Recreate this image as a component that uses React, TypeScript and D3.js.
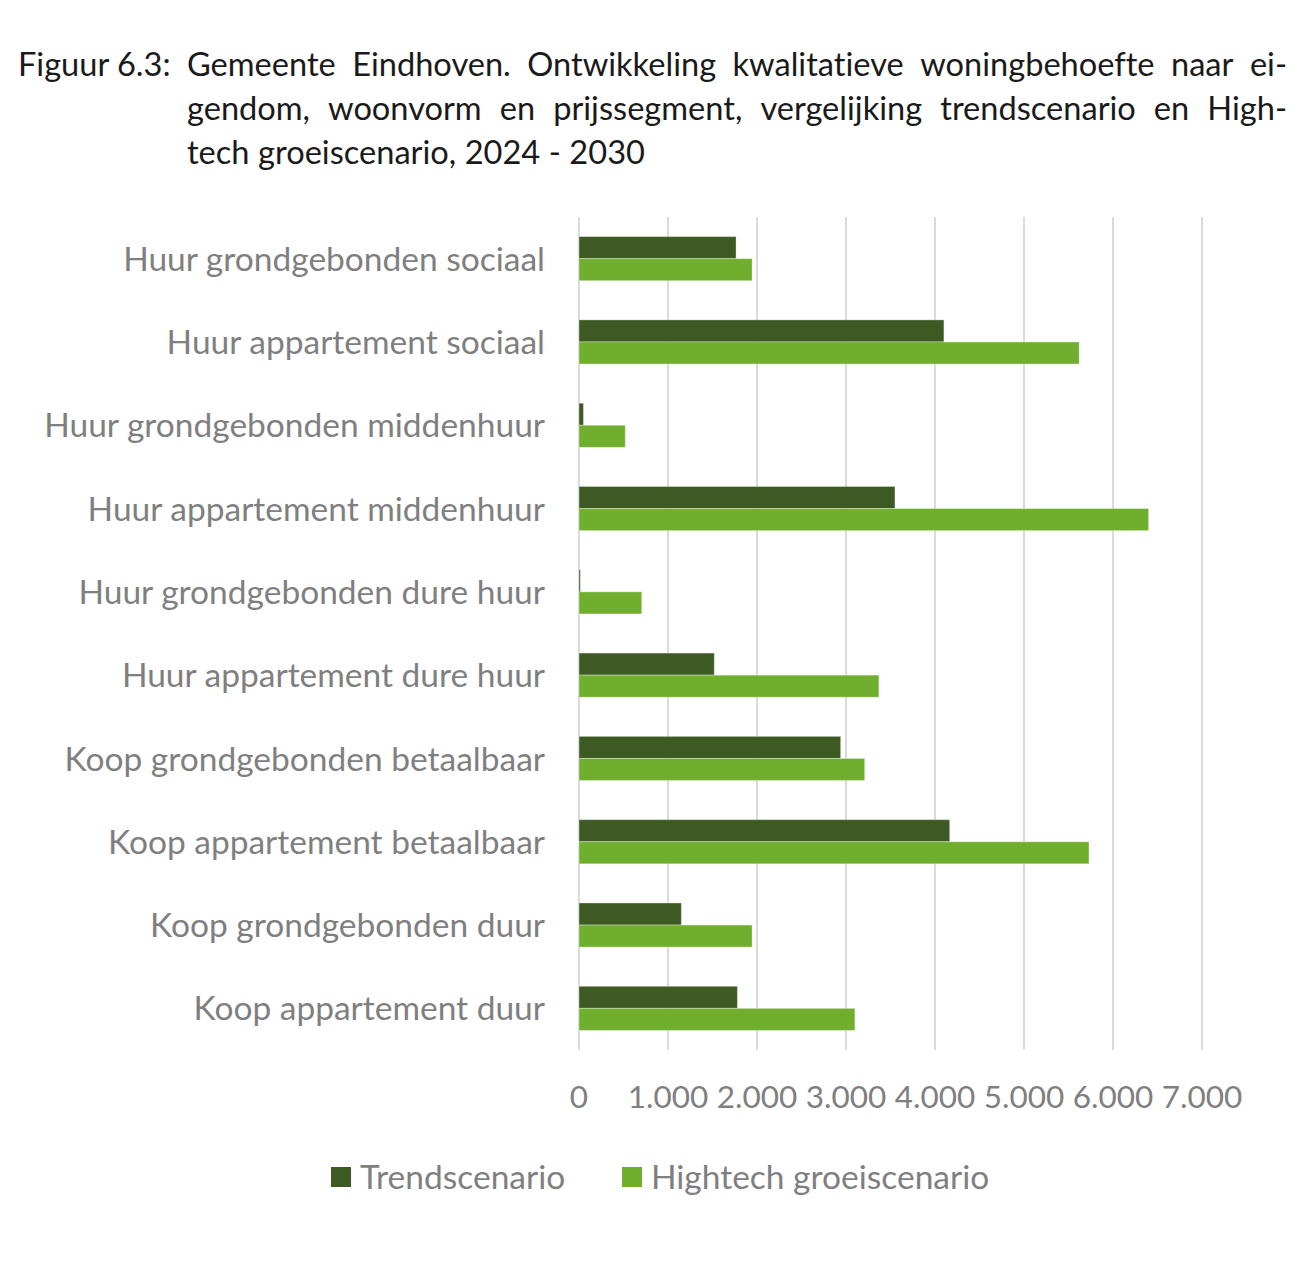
import React, { useEffect, useRef } from 'react';
import * as d3 from 'd3';

const categories = [
  'Huur grondgebonden sociaal',
  'Huur appartement sociaal',
  'Huur grondgebonden middenhuur',
  'Huur appartement middenhuur',
  'Huur grondgebonden dure huur',
  'Huur appartement dure huur',
  'Koop grondgebonden betaalbaar',
  'Koop appartement betaalbaar',
  'Koop grondgebonden duur',
  'Koop appartement duur',
];
const trendValues = [1765, 4100, 50, 3550, 15, 1520, 2940, 4165, 1150, 1780];
const hightechValues = [1945, 5620, 520, 6400, 705, 3370, 3210, 5730, 1945, 3100];
const seriesNames = ['Trendscenario', 'Hightech groeiscenario'];
const seriesColors = ['#3d5a23', '#70ae2e'];
const xTicks = [0, 1000, 2000, 3000, 4000, 5000, 6000, 7000];

const titleLead = 'Figuur 6.3:';
const titleLines = [
  'Gemeente Eindhoven. Ontwikkeling kwalitatieve woningbehoefte naar ei-',
  'gendom, woonvorm en prijssegment, vergelijking trendscenario en High-',
  'tech groeiscenario, 2024 - 2030',
];

const FONT = 'Lato, "Open Sans", sans-serif';

export default function App() {
  const svgRef = useRef<SVGSVGElement>(null);

  useEffect(() => {
    if (!svgRef.current) return;
    const svg = d3.select(svgRef.current);
    svg.selectAll('*').remove();

    const width = 1314;
    const height = 1262;
    const margin = { top: 217, left: 579, right: 1314 - 1202, bottom: 1262 - 1050 };
    const innerWidth = width - margin.left - margin.right;
    const innerHeight = height - margin.top - margin.bottom;

    svg.append('rect').attr('width', width).attr('height', height).attr('fill', '#ffffff');

    // title, justified like the source document
    const titleG = svg.append('g')
      .attr('font-family', FONT)
      .style('font-size', '32.6px')
      .style('font-variant-ligatures', 'none')
      .attr('fill', '#1a1a1a');
    titleG.append('text').attr('x', 18).attr('y', 76).text(titleLead);
    const lineLeft = 187;
    const lineRight = 1287;
    titleLines.forEach((line, li) => {
      const y = 76 + li * 44;
      const words = line.split(' ');
      const justify = li < titleLines.length - 1;
      const nodes = words.map(w => titleG.append('text').attr('y', y).text(w));
      const widths = nodes.map(n => (n.node() as SVGTextElement).getComputedTextLength());
      const spaceW = 8.5;
      const total = d3.sum(widths);
      const gap = justify ? (lineRight - lineLeft - total) / (words.length - 1) : spaceW;
      let x = lineLeft;
      nodes.forEach((n, i) => {
        n.attr('x', x);
        x += widths[i] + gap;
      });
    });

    const xScale = d3.scaleLinear().domain([0, 7000]).range([0, innerWidth]);
    const yScale = d3.scaleBand<string>().domain(categories).range([0, innerHeight]).paddingInner(0.47).paddingOuter(0.235);
    const ySub = d3.scaleBand<number>().domain([0, 1]).range([0, yScale.bandwidth()]);

    const g = svg.append('g').attr('transform', `translate(${margin.left},${margin.top})`);

    g.append('g')
      .selectAll('line')
      .data(xTicks)
      .enter()
      .append('line')
      .attr('x1', d => xScale(d))
      .attr('x2', d => xScale(d))
      .attr('y1', 0)
      .attr('y2', innerHeight)
      .attr('stroke', '#dadada')
      .attr('stroke-width', 2);

    const series = [trendValues, hightechValues];
    series.forEach((values, si) => {
      g.append('g')
        .selectAll('rect')
        .data(values)
        .enter()
        .append('rect')
        .attr('x', xScale(0))
        .attr('y', (d, i) => (yScale(categories[i]) as number) + (ySub(si) as number))
        .attr('width', d => xScale(d) - xScale(0))
        .attr('height', ySub.bandwidth())
        .attr('fill', seriesColors[si])
        .attr('stroke', '#ffffff')
        .attr('stroke-opacity', 0.35)
        .attr('stroke-width', 1);
    });

    g.append('g')
      .selectAll('text')
      .data(categories)
      .enter()
      .append('text')
      .attr('x', -34)
      .attr('y', d => (yScale(d) as number) + yScale.bandwidth() / 2)
      .attr('dy', '0.36em')
      .attr('text-anchor', 'end')
      .attr('font-family', FONT)
      .style('font-size', '33.5px')
      .attr('fill', '#7f7f7f')
      .text(d => d);

    g.append('g')
      .selectAll('text')
      .data(xTicks)
      .enter()
      .append('text')
      .attr('x', d => xScale(d))
      .attr('y', innerHeight + 58)
      .attr('text-anchor', 'middle')
      .attr('font-family', FONT)
      .style('font-size', '31.5px')
      .attr('fill', '#7f7f7f')
      .text(d => d3.format(',')(d).replace(/,/g, '.'));

    const legendX = [331, 622];
    seriesNames.forEach((name, i) => {
      svg.append('rect')
        .attr('x', legendX[i])
        .attr('y', 1167)
        .attr('width', 20)
        .attr('height', 20)
        .attr('fill', seriesColors[i]);
      svg.append('text')
        .attr('x', legendX[i] + 29)
        .attr('y', 1189)
        .attr('font-family', FONT)
        .style('font-size', '33.5px')
        .attr('fill', '#7f7f7f')
        .text(name);
    });
  }, []);

  return (
    <svg
      ref={svgRef}
      width={1314}
      height={1262}
      style={{ position: 'absolute', left: 0, top: 0, display: 'block' }}
    />
  );
}
